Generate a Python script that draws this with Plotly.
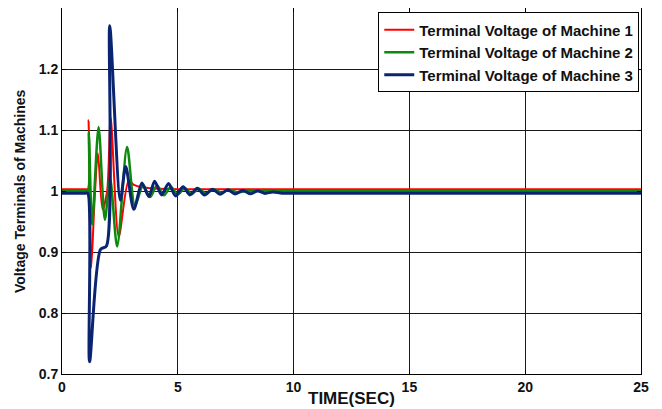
import plotly.graph_objects as go

# ---- data ----
t_m1 = [0, 1.0, 1.12, 1.15, 1.26, 1.4, 1.55, 1.75, 1.95, 2.1, 2.45, 2.88, 3.1, 3.5, 4.0, 5.0, 10, 25]
v_m1 = [1.003, 1.003, 1.003, 1.116, 0.874, 0.98, 1.062, 0.97, 1.0, 1.121, 0.925, 1.017, 1.01, 1.006, 1.004, 1.003, 1.003, 1.003]

t_m2 = [0, 1.0, 1.12, 1.16, 1.3, 1.58, 1.85, 2.08, 2.38, 2.81, 3.15, 3.5, 3.8, 4.1, 4.4, 4.7, 5.0, 5.3,
        5.6, 5.9, 6.2, 6.55, 6.9, 7.2, 7.55, 8.0, 10, 25]
v_m2 = [1.0, 1.0, 1.0, 1.095, 0.945, 1.105, 0.953, 1.02, 0.909, 1.072, 0.975, 1.01, 0.99, 1.009, 0.993,
        1.007, 0.994, 1.005, 0.995, 1.004, 0.996, 1.003, 0.997, 1.002, 0.998, 1.0, 1.0, 1.0]

t_m3 = [0, 1.0, 1.11, 1.19, 1.66, 1.92, 2.06, 2.52, 2.75, 3.1, 3.45, 3.75, 4.0, 4.3, 4.6, 4.9, 5.23, 5.52,
        5.84, 6.15, 6.5, 6.82, 7.15, 7.47, 7.8, 8.12, 8.45, 8.77, 9.1, 9.5, 10, 25]
v_m3 = [0.9965, 0.9965, 0.9965, 0.72, 0.904, 0.91, 1.271, 0.985, 1.04, 0.97, 1.013, 0.991, 1.016, 0.9935,
        1.0125, 0.992, 1.007, 0.9935, 1.0045, 0.9935, 1.003, 0.9945, 1.002, 0.995, 1.001, 0.9955, 1.0,
        0.996, 0.9985, 0.9965, 0.9965, 0.9965]

names = ["Terminal Voltage of Machine 1", "Terminal Voltage of Machine 2", "Terminal Voltage of Machine 3"]
colors = ["#ff0000", "#0c8a0c", "#0a2472"]
widths = [2, 2.5, 3]

x_ticks = [0, 5, 10, 15, 20, 25]
y_ticks = [0.7, 0.8, 0.9, 1.0, 1.1, 1.2]
y_tick_text = ["0.7", "0.8", "0.9", "1", "1.1", "1.2"]

fig = go.Figure()
for t, v, n, c, w in zip([t_m1, t_m2, t_m3], [v_m1, v_m2, v_m3], names, colors, widths):
    fig.add_trace(go.Scatter(x=t, y=v, mode="lines", name="<b>" + n + "</b>",
                             line=dict(color=c, width=w, shape="spline", smoothing=0.8)))

axis_common = dict(showline=True, linecolor="black", linewidth=1, mirror="ticks",
                   ticks="inside", ticklen=4, tickcolor="black",
                   showgrid=True, gridcolor="#1a1a1a", gridwidth=1, zeroline=False,
                   tickfont=dict(family="Liberation Sans, Arial", size=14, color="#111", weight="bold"))

fig.update_xaxes(range=[0, 25], tickvals=x_ticks, **axis_common)
fig.update_yaxes(range=[0.7, 1.3], tickvals=y_ticks, ticktext=y_tick_text, **axis_common)

fig.update_layout(
    width=662, height=409,
    margin=dict(l=54, r=29, t=0, b=43),
    paper_bgcolor="white", plot_bgcolor="white",
    font=dict(family="Liberation Sans, Arial", color="#111"),
    legend=dict(x=0.997, xanchor="right", y=0.988, yanchor="top",
                bgcolor="white", bordercolor="black", borderwidth=1,
                font=dict(size=15, color="#111")),
    annotations=[
        dict(text="<b>TIME(SEC)</b>", x=0.5, xref="paper", y=-0.066, yref="paper",
             xanchor="center", yanchor="middle", showarrow=False,
             font=dict(size=17, color="#111")),
        dict(text="<b>Voltage Terminals of Machines</b>", x=-0.0725, xref="paper", y=0.5, yref="paper",
             xanchor="center", yanchor="middle", textangle=-90, showarrow=False,
             font=dict(size=14, color="#111")),
    ],
)

fig.write_html("out.html")
